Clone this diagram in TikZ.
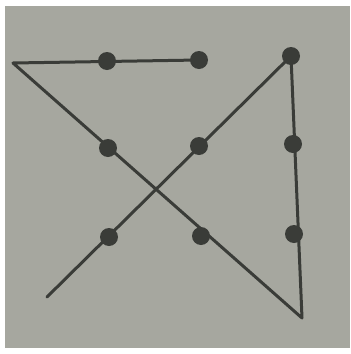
\documentclass[tikz,border=0pt]{standalone}
\begin{document}
\begin{tikzpicture}[x=1pt,y=-1pt,
  dotnode/.style={circle,fill=ink,inner sep=0pt,minimum size=18pt},
  stroke/.style={draw=ink,line width=3pt,line cap=round,line join=round}]
\definecolor{ink}{RGB}{58,60,56}
\definecolor{paper}{RGB}{166,167,159}
\useasboundingbox (0,0) rectangle (351,354);
\fill[white] (0,0) rectangle (351,354);
\fill[paper] (5,6) rectangle (350,348);
% dots
\node[dotnode] (a1) at (107,61) {};
\node[dotnode] (a2) at (199,60) {};
\node[dotnode] (a3) at (291,56) {};
\node[dotnode] (b1) at (108,148) {};
\node[dotnode] (b2) at (199,146) {};
\node[dotnode] (b3) at (293,144) {};
\node[dotnode] (c1) at (109,237) {};
\node[dotnode] (c2) at (201,236) {};
\node[dotnode] (c3) at (294,234) {};
\coordinate (L) at (13,63);
\coordinate (R) at (302,318);
\coordinate (E) at (47,297);
\draw[stroke] (a2.center) -- (L) -- (R) -- (a3.center) -- (E);
\end{tikzpicture}
\end{document}
